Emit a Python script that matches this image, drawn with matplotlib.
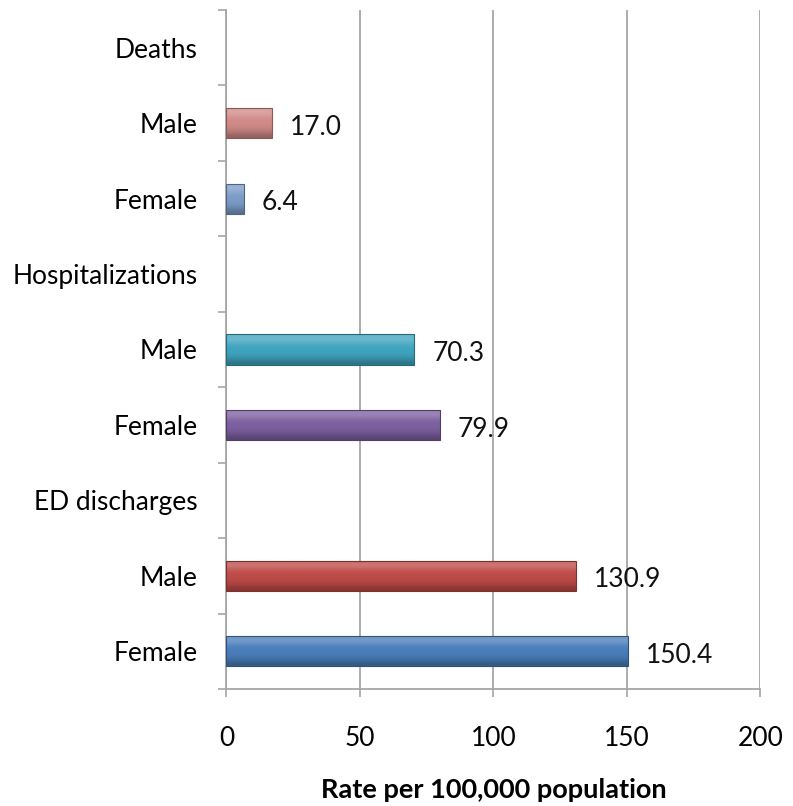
import matplotlib
matplotlib.use("Agg")
import matplotlib.pyplot as plt
import numpy as np
from matplotlib.colors import to_rgb

# bottom -> top, as in the chart
labels = ["Female", "Male", "ED discharges",
          "Female", "Male", "Hospitalizations",
          "Female", "Male", "Deaths"]
values = [150.4, 130.9, None, 79.9, 70.3, None, 6.4, 17.0, None]
colors = ["#4A7EBB", "#BE4B48", None, "#7D60A0", "#3FA4BF", None,
          "#7C9CC8", "#D08A88", None]
xticks = [0, 50, 100, 150, 200]

plt.rcParams["font.family"] = ["Lato", "DejaVu Sans"]

fig = plt.figure(figsize=(7.93, 8.06), dpi=100)
ax = fig.add_axes([0.2856, 0.1452, 0.6734, 0.8424])

BAR_H = 0.4
GRID = "#A6A6A6"
FS = 19


def shade(c, f):
    r = np.array(to_rgb(c))
    if f >= 0:
        return r + (1 - r) * f
    return r * (1 + f)


for y, (v, c) in enumerate(zip(values, colors)):
    if v is None:
        continue
    # vertical gradient to mimic the bevelled Excel bars
    prof = np.array([-0.3, -0.15, -0.05, 0.0, 0.0, 0.08, 0.25, 0.2])
    img = np.array([shade(c, f) for f in prof])[:, None, :]
    im = ax.imshow(img, extent=(0, v, y - BAR_H / 2, y + BAR_H / 2),
                   aspect="auto", origin="lower", interpolation="bicubic", zorder=3)
    bar = ax.barh(y, v, height=BAR_H, color="none",
                  edgecolor=shade(c, -0.35), linewidth=0.8, zorder=4)[0]
    im.set_clip_path(bar)
    ax.annotate(f"{v:.1f}", (v, y), xytext=(13, -3), textcoords="offset points",
                va="center", ha="left", fontsize=FS, color="#111111", zorder=5)

ax.set_xlim(0, 200)
ax.set_ylim(-0.5, 8.5)
ax.set_xticks(xticks)
ax.set_yticks(range(len(labels)))
ax.set_yticklabels(labels, va="center_baseline")
ax.set_yticks(np.arange(-0.5, 9.0, 1.0), minor=True)

ax.tick_params(axis="y", which="major", length=0, pad=21, labelsize=FS)
ax.tick_params(axis="y", which="minor", length=6, width=1.2, color=GRID)
ax.tick_params(axis="x", length=6, width=1.2, color=GRID, pad=21, labelsize=FS)

ax.grid(axis="x", color=GRID, linewidth=1.3, zorder=0)
ax.set_axisbelow(True)
for s in ["top", "right"]:
    ax.spines[s].set_visible(False)
for s in ["left", "bottom"]:
    ax.spines[s].set_color(GRID)
    ax.spines[s].set_linewidth(1.3)

ax.set_xlabel("Rate per 100,000 population", fontsize=19.5, fontweight="bold",
              labelpad=19)

fig.savefig("out.png", dpi=100)
